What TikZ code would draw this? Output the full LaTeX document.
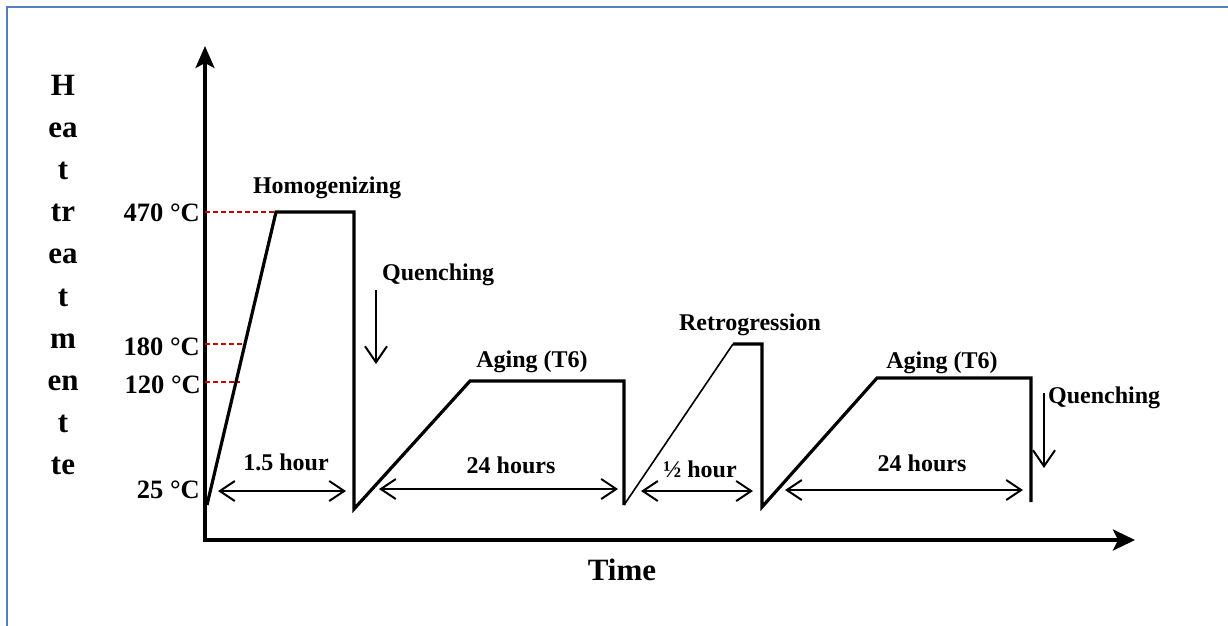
\documentclass[tikz,border=0pt]{standalone}
\usepackage{fontspec}
\setmainfont{Liberation Serif}
\usetikzlibrary{arrows.meta}
\definecolor{frameblue}{RGB}{79,129,189}
\definecolor{dashred}{RGB}{200,0,0}
\begin{document}
\begin{tikzpicture}[x=1pt,y=-1pt,
  curve/.style={line width=3.2pt, line join=miter},
  thincurve/.style={line width=1.6pt},
  axisline/.style={line width=3.2pt, line join=miter,
    {Stealth[length=22pt,width=19pt,inset=5pt]}-{Stealth[length=22pt,width=21pt,inset=5pt]}},
  dimline/.style={line width=2pt,
    {Straight Barb[length=15pt,width=20pt]}-{Straight Barb[length=15pt,width=20pt]}},
  quench/.style={line width=2pt, -{Straight Barb[length=16pt,width=22pt]}},
  guide/.style={dashred, line width=2.3pt, dash pattern=on 5pt off 3pt},
  lbl/.style={font=\fontsize{24}{28}\selectfont\bfseries, anchor=base, inner sep=0pt},
  lbll/.style={lbl, anchor=base west},
  temp/.style={font=\fontsize{26.5}{30}\selectfont\bfseries, anchor=base east, inner sep=0pt},
  ylab/.style={font=\fontsize{31}{36}\selectfont\bfseries, anchor=base, inner sep=0pt},
]
\useasboundingbox (0,0) rectangle (1228,625);
% frame
\draw[frameblue, line width=2.5pt] (7,640) -- (7,7) -- (1240,7);

% axes
\coordinate (O) at (205,540);
\coordinate (Ytip) at (205,46);
\coordinate (Xtip) at (1135,540);
\draw[axisline] (Ytip) -- (O) -- (Xtip);

% profile points
\coordinate (p1) at (207,505);
\coordinate (p2) at (276,212);
\coordinate (p3) at (354,212);
\coordinate (p4) at (354,509);
\coordinate (p5) at (470,381);
\coordinate (p6) at (624,381);
\coordinate (p7) at (624,505);
\coordinate (p8) at (733,344);
\coordinate (p9) at (762,344);
\coordinate (p10) at (762,507);
\coordinate (p11) at (877,378);
\coordinate (p12) at (1031,378);
\coordinate (p13) at (1031,502);

% red guides
\coordinate (g470) at (205,212);
\coordinate (g180) at (205,344);
\coordinate (g180e) at (244,344);
\coordinate (g120) at (205,382);
\coordinate (g120e) at (240,382);
\draw[guide] (g470) -- (p2);
\draw[guide] (g180) -- (g180e);
\draw[guide] (g120) -- (g120e);

\draw[curve] (p1) -- (p2) -- (p3) -- (p4) -- (p5) -- (p6) -- (p7);
\draw[thincurve] (p7) -- (p8);
\draw[curve] (p8) -- (p9) -- (p10) -- (p11) -- (p12) -- (p13);

% temperature labels
\node[temp] (t470) at (200,221) {470 °C};
\node[temp] (t180) at (200,355) {180 °C};
\node[temp] (t120) at (201,393) {120 °C};
\node[temp] (t25) at (200,498) {25 °C};

% y label
\foreach \t [count=\i] in {H,ea,t,tr,ea,t,m,en,t,te}
  \node[ylab] (yl\i) at (63,{95+42.2*(\i-1)}) {\t};

% x label
\node[ylab] (xlab) at (622,580) {Time};

% stage labels
\node[lbl] (homog) at (327,193) {Homogenizing};
\node[lbll] (q1) at (382,280) {Quenching};
\node[lbl] (age1) at (532,367) {Aging (T6)};
\node[lbl] (retro) at (750,330) {Retrogression};
\node[lbl] (age2) at (942,368) {Aging (T6)};
\node[lbll] (q2) at (1048,403) {Quenching};

% quench arrows
\coordinate (qa1s) at (376,290);
\coordinate (qa1e) at (376,364);
\coordinate (qa2s) at (1044,393);
\coordinate (qa2e) at (1044,468);
\draw[quench] (qa1s) -- (qa1e);
\draw[quench] (qa2s) -- (qa2e);

% duration arrows
\coordinate (d1a) at (218,491); \coordinate (d1b) at (346,491);
\coordinate (d2a) at (379,489); \coordinate (d2b) at (618,489);
\coordinate (d3a) at (641,491); \coordinate (d3b) at (753,491);
\coordinate (d4a) at (785,490); \coordinate (d4b) at (1023,490);
\draw[dimline] (d1a) -- (d1b);
\draw[dimline] (d2a) -- (d2b);
\draw[dimline] (d3a) -- (d3b);
\draw[dimline] (d4a) -- (d4b);

\node[lbl] (h1) at (286,470) {1.5 hour};
\node[lbl] (h2) at (511,473) {24 hours};
\node[lbl] (h3) at (700,477) {½ hour};
\node[lbl] (h4) at (922,471) {24 hours};
\end{tikzpicture}
\end{document}
